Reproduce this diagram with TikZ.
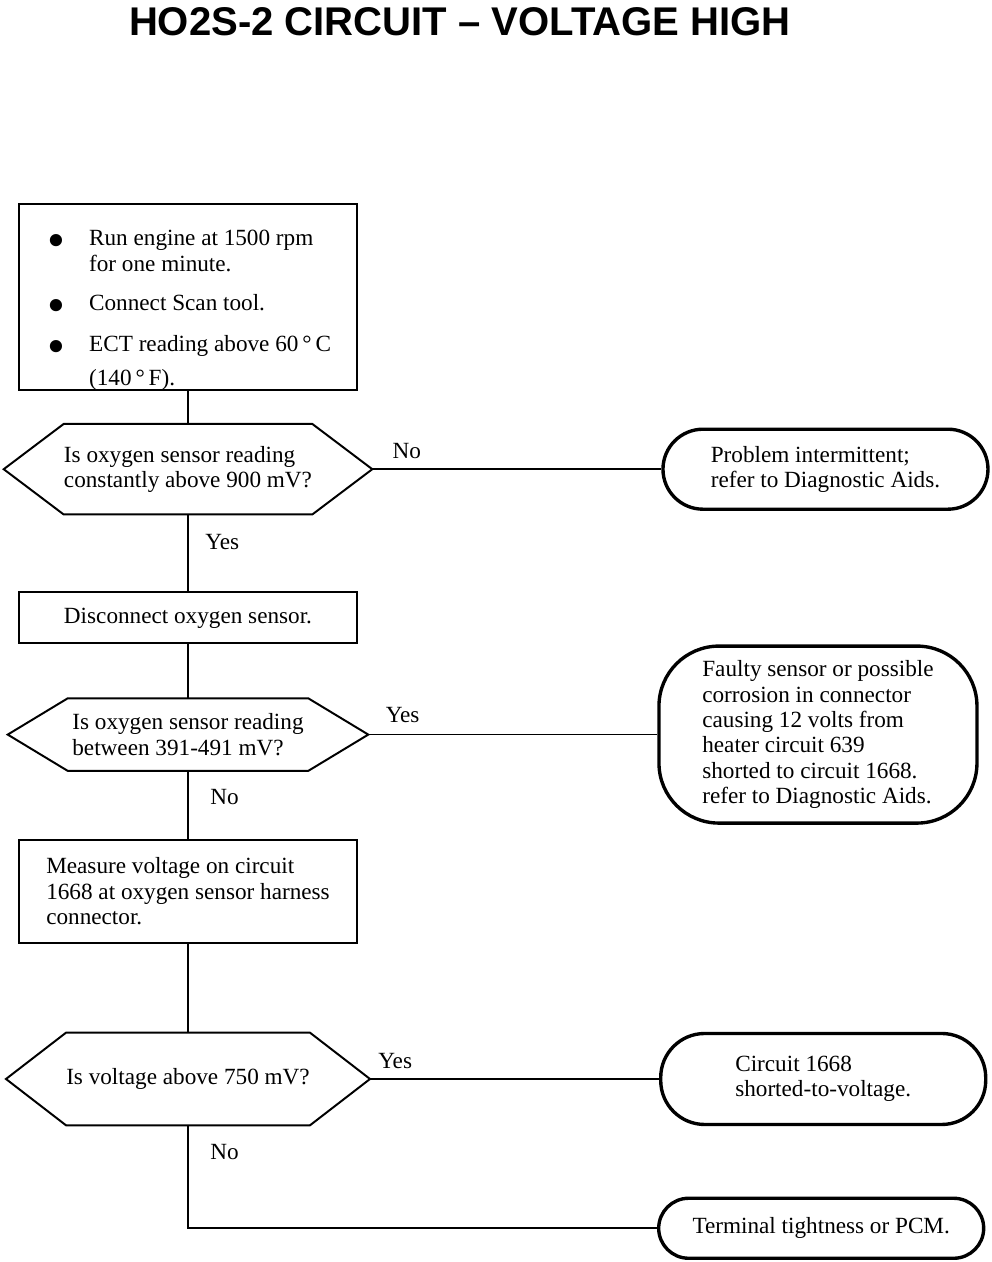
\documentclass[tikz,border=0pt]{standalone}
\usepackage{fontspec}
\setmainfont{Liberation Serif}
\newfontfamily\headfont{Liberation Sans}
\usepackage{graphicx}
\usetikzlibrary{positioning}

\newcommand{\bigbul}{\smash{\raisebox{-0.5em}{\scalebox{2.2}{\textbullet}}}}

\begin{document}
\begin{tikzpicture}[
    node distance=1cm,
    font=\fontsize{16.5}{18}\selectfont,
    box/.style={rectangle, draw=black, line width=1.3pt, minimum width=8.45cm, align=left},
    query/.style={rectangle, minimum width=6cm, inner sep=0pt, align=left},
    stopbox/.style={rectangle, rounded corners=#1, draw=black, line width=2.4pt, minimum width=8.125cm, align=left},
    lbl/.style={inner sep=0pt},
    link/.style={line width=1.1pt}
]
\useasboundingbox (0,0) rectangle (24.8,-31.55);

\node[font=\headfont\bfseries\fontsize{28.5}{30}\selectfont] (title) at (11.5,-0.55) {HO2S-2 CIRCUIT – VOLTAGE HIGH};

% left column
\node[box, minimum height=4.65cm] (start) at (4.7,-7.425) {};
\node[anchor=north west, inner sep=0pt] (steps) at ([xshift=0.72cm, yshift=-0.62cm]start.north west) {%
\begin{tabular}{@{}p{1.05cm}@{}l@{}}
\bigbul & Run engine at 1500 rpm\\
 & for one minute.\\[0.35cm]
\bigbul & Connect Scan tool.\\[0.4cm]
\bigbul & ECT reading above 60\,°\,C\\[0.2cm]
 & (140\,°\,F).
\end{tabular}};
\node[query, minimum height=2.25cm, below=0.825cm of start] (q1) {Is oxygen sensor reading\\constantly above 900 mV?};
\node[box, minimum height=1.275cm, below=1.925cm of q1] (disc) {Disconnect oxygen sensor.};
\node[query, minimum height=1.8cm, below=1.35cm of disc] (q2) {Is oxygen sensor reading\\between 391-491 mV?};
\node[box, minimum height=2.575cm, below=1.7cm of q2] (meas) {Measure voltage on circuit\\1668 at oxygen sensor harness\\connector.};
\node[query, minimum height=2.3cm, below=2.225cm of meas] (q3) {Is voltage above 750 mV?};
\coordinate[below=2.575cm of q3] (turn);

% hexagon outlines
\foreach \q in {q1,q2,q3} {
  \draw[line width=1.4pt] (\q.north west) -- (\q.north east) -- ([xshift=1.5cm]\q.east)
    -- (\q.south east) -- (\q.south west) -- ([xshift=-1.5cm]\q.west) -- cycle;
  \coordinate (\q r) at ([xshift=1.5cm]\q.east);
}

% right column
\node[stopbox=1cm, minimum height=2cm, right=8.725cm of q1] (e1) {Problem intermittent;\\refer to Diagnostic Aids.};
\node[stopbox=1.5cm, minimum width=7.95cm, minimum height=4.425cm, right=8.725cm of q2] (e2) {Faulty sensor or possible\\corrosion in connector\\causing 12 volts from\\heater circuit 639\\shorted to circuit 1668.\\refer to Diagnostic Aids.};
\node[stopbox=1.1cm, minimum height=2.275cm, right=8.725cm of q3] (e3) {Circuit 1668\\shorted-to-voltage.};
\node[stopbox=0.75cm, minimum height=1.5cm, right=11.725cm of turn] (e4) {Terminal tightness or PCM.};

% labels
\node[lbl, above right=0.25cm and 0.5cm of q1r] (no1) {No};
\node[lbl, below right=0.5cm and 0.43cm of q1.south] (yes1) {Yes};
\node[lbl, above right=0.28cm and 0.43cm of q2r] (yes2) {Yes};
\node[lbl, below right=0.45cm and 0.55cm of q2.south] (no2) {No};
\node[lbl, above right=0.25cm and 0.2cm of q3r] (yes3) {Yes};
\node[lbl, below right=0.48cm and 0.55cm of q3.south] (no3) {No};

% connectors
\draw[link] (start) -- (q1);
\draw[link] (q1) -- (disc);
\draw[link] (disc) -- (q2);
\draw[link] (q2) -- (meas);
\draw[link] (meas) -- (q3);
\draw[link] (q3) -- (turn) -- (e4);
\draw[link] (q1r) -- (e1);
\draw[link] (q2r) -- (e2);
\draw[link] (q3r) -- (e3);
\end{tikzpicture}
\end{document}
